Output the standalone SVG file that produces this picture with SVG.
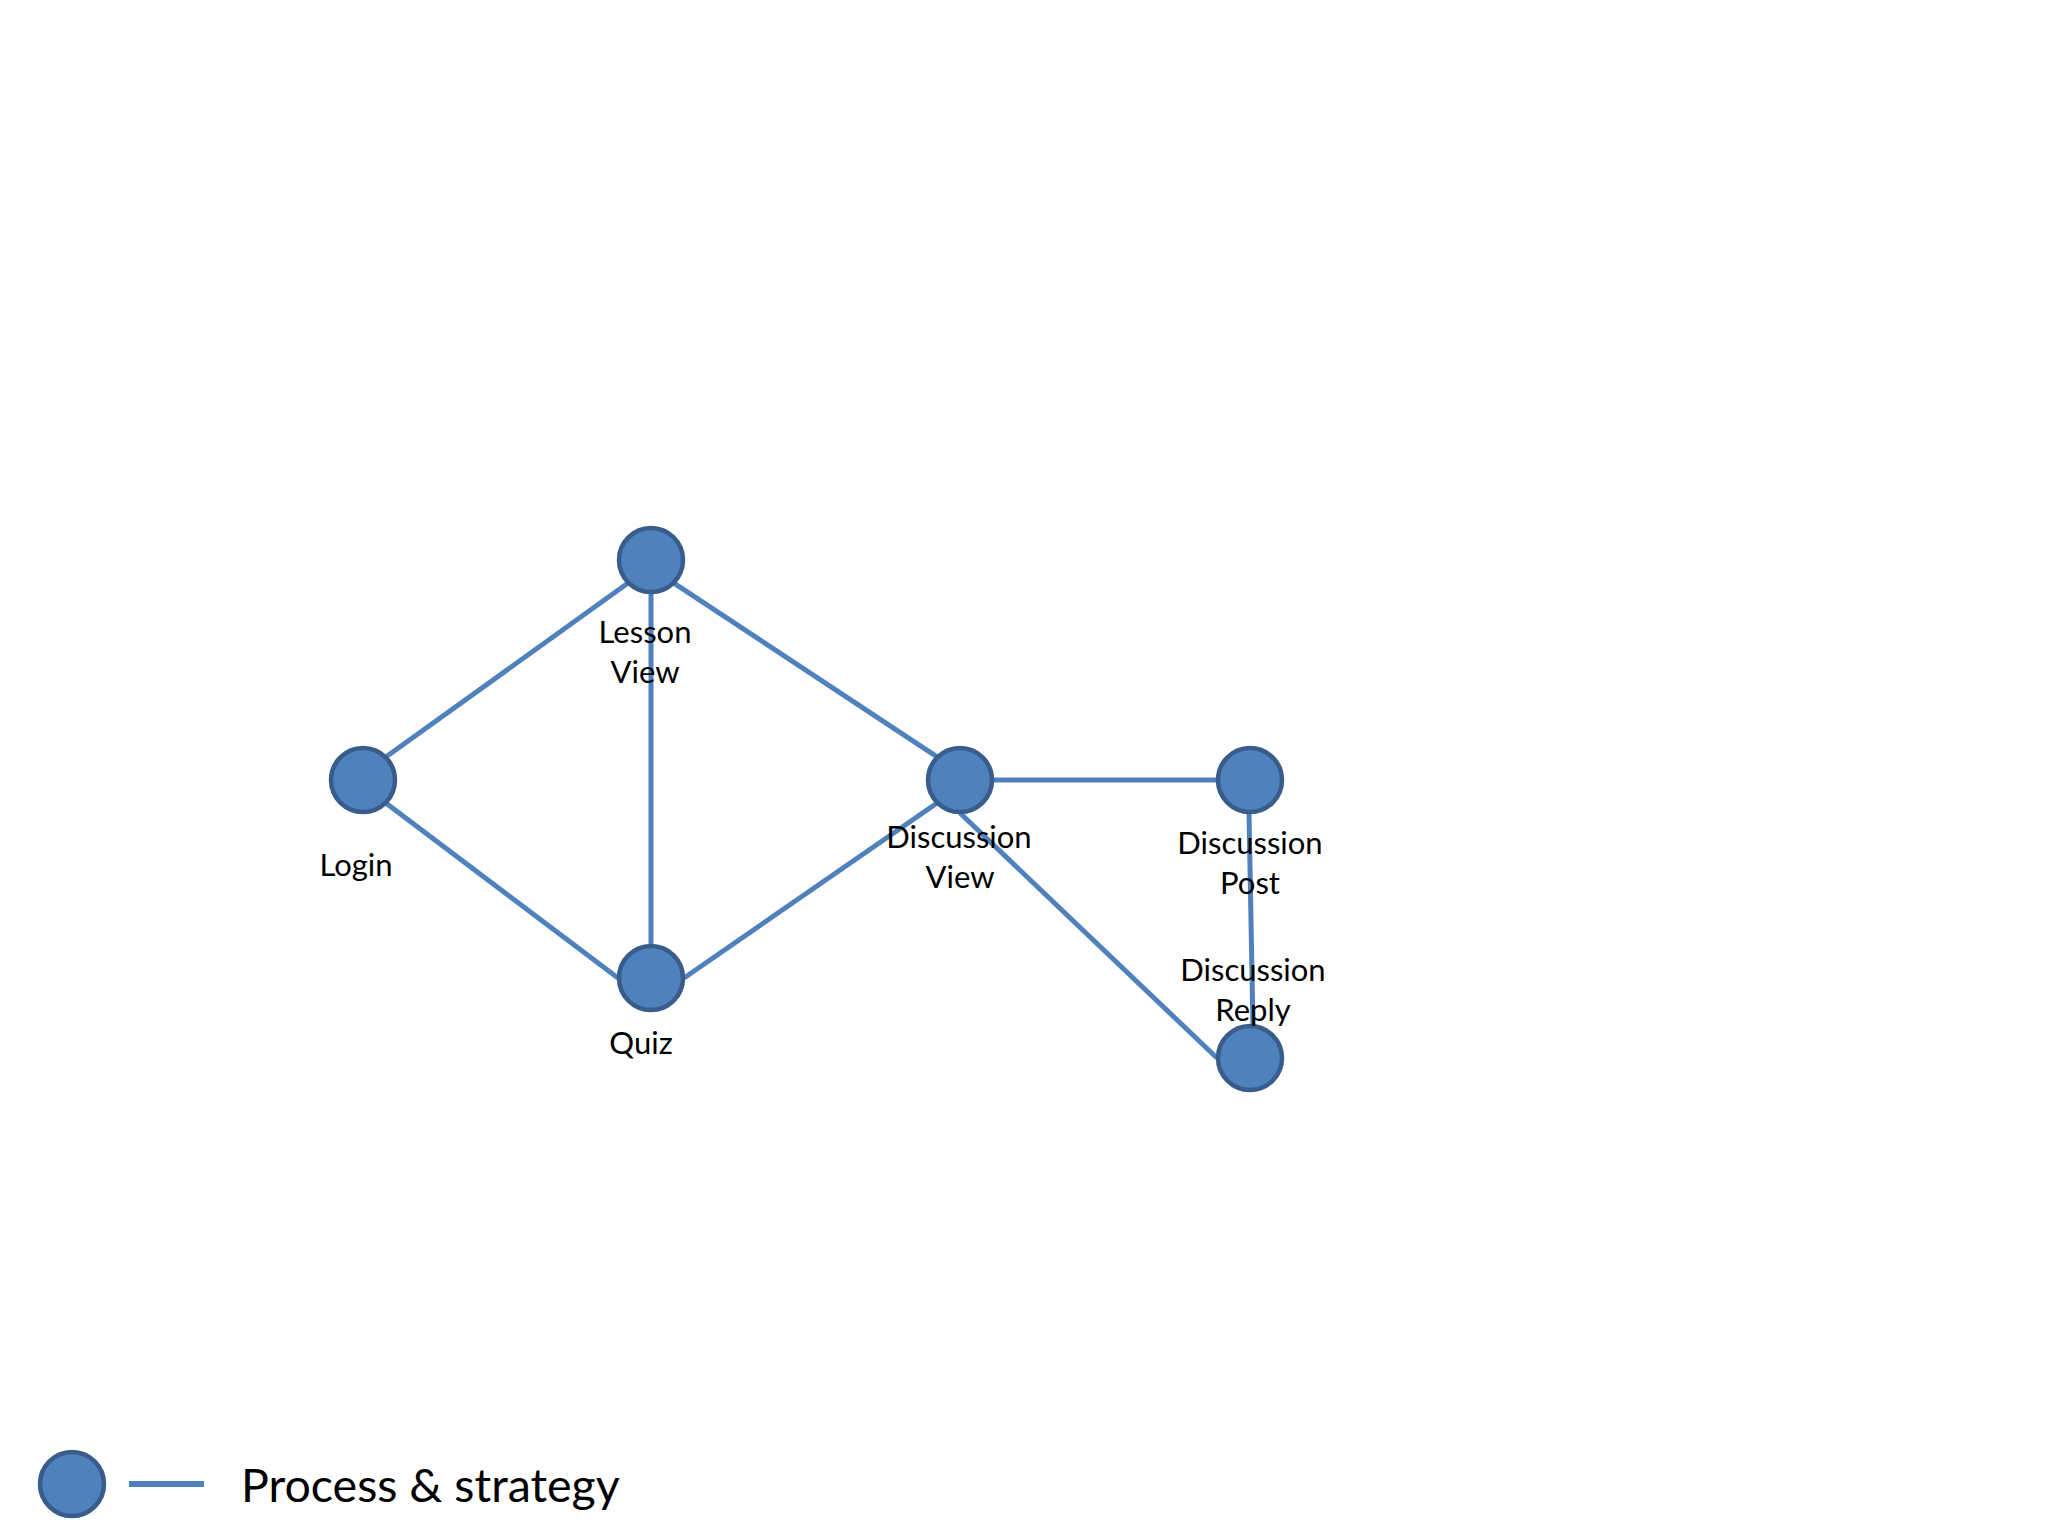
<svg xmlns="http://www.w3.org/2000/svg" width="2048" height="1536" viewBox="0 0 2048 1536">
<style>
.edge{stroke:#4F81BD;stroke-width:5;fill:none;stroke-linecap:butt}
.node{fill:#4F81BD;stroke:#385D8A;stroke-width:4.5}
.lbl{font-family:Lato,"Liberation Sans",sans-serif;font-size:31px;fill:#000;text-anchor:middle}
.leg{font-family:Lato,"Liberation Sans",sans-serif;font-size:46.5px;fill:#000}
</style>
<rect width="2048" height="1536" fill="#fff"/>
<g id="connectors">
<line class="edge" x1="386.5" y1="756.5" x2="627.7" y2="583.3"/>
<line class="edge" x1="386.5" y1="803.5" x2="618" y2="978"/>
<line class="edge" x1="651" y1="593" x2="651" y2="945"/>
<line class="edge" x1="674.3" y1="583.3" x2="936.7" y2="756.7"/>
<line class="edge" x1="684" y1="978" x2="936.7" y2="803.3"/>
<line class="edge" x1="993" y1="780" x2="1217" y2="780"/>
<line class="edge" x1="960" y1="813" x2="1217" y2="1058"/>
<line class="edge" x1="1249" y1="813" x2="1253" y2="1027"/>
</g>
<g id="node-login">
<circle class="node" cx="363" cy="780" r="32"/>
<text class="lbl" x="356" y="876">Login</text>
</g>
<g id="node-lesson-view">
<circle class="node" cx="651" cy="560" r="32"/>
<text class="lbl" x="645" y="643">Lesson</text>
<text class="lbl" x="645" y="683">View</text>
</g>
<g id="node-quiz">
<circle class="node" cx="651" cy="978" r="32"/>
<text class="lbl" x="641" y="1054">Quiz</text>
</g>
<g id="node-discussion-view">
<circle class="node" cx="960" cy="780" r="32"/>
<text class="lbl" x="959" y="848">Discussion</text>
<text class="lbl" x="960" y="888">View</text>
</g>
<g id="node-discussion-post">
<circle class="node" cx="1250" cy="780" r="32"/>
<text class="lbl" x="1250" y="854">Discussion</text>
<text class="lbl" x="1250" y="894">Post</text>
</g>
<g id="node-discussion-reply">
<circle class="node" cx="1250" cy="1058" r="32"/>
<text class="lbl" x="1253" y="981">Discussion</text>
<text class="lbl" x="1253" y="1021">Reply</text>
</g>
<g id="legend">
<circle class="node" cx="72" cy="1484" r="32"/>
<line x1="129" y1="1484" x2="204" y2="1484" stroke="#4F81BD" stroke-width="6"/>
<text class="leg" x="241" y="1502">Process &amp; strategy</text>
</g>
</svg>
